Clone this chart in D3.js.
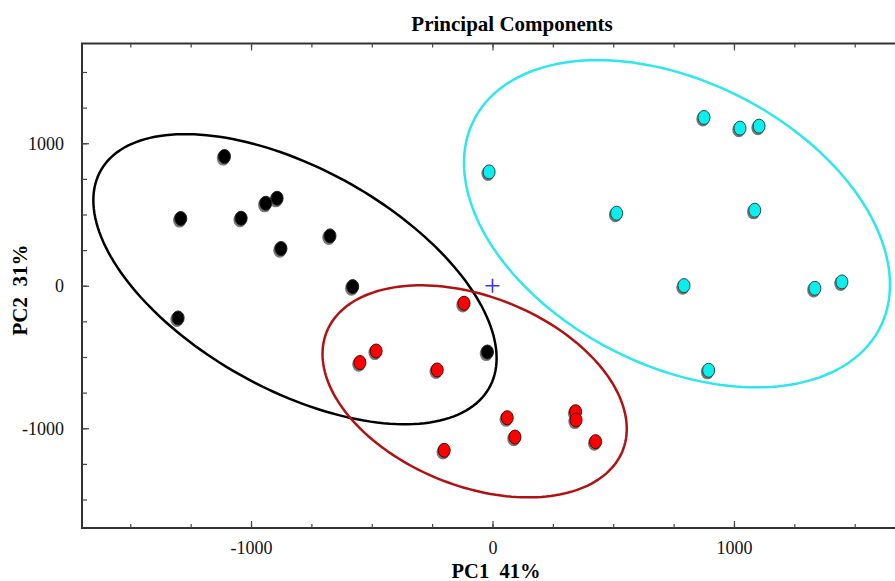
<!DOCTYPE html>
<html>
<head>
<meta charset="utf-8">
<script src="https://cdn.jsdelivr.net/npm/d3@7"></script>
<style>
  body { margin: 0; background: #fff; }
  text { font-family: "Liberation Serif", "Times New Roman", serif; }
</style>
</head>
<body>
<div id="pca"></div>
<script>
// scores, one pair of arrays per group
var blackX = [-1110, -1291, -1041, -939, -892, -876, -673, -579, -1302, -21];
var blackY = [907, 472, 474, 579, 614, 261, 350, -6, -226, -465];
var redX = [-118, -482, -549, -229, 61, 93, 344, 346, 427, -200];
var redY = [-123, -458, -539, -591, -926, -1062, -884, -942, -1094, -1155];
var cyanX = [-14, 876, 1025, 1104, 514, 1086, 793, 1335, 1447, 895];
var cyanY = [799, 1181, 1106, 1120, 509, 530, 1, -18, 27, -593];

// confidence ellipses: centre, half extents and correlation (black, red, cyan)
var ellCx = [-818, -74, 764];
var ellCy = [46, -741, 435];
var ellSx = [835, 630, 882];
var ellSy = [1018, 744, 1148];
var ellR = [-0.544, -0.353, -0.372];

var xTickLabels = [-1000, 0, 1000];
var yTickLabels = [-1000, 0, 1000];

var groups = [
  {x: blackX, y: blackY, fill: "#000000", stroke: "#222222", ring: "#000000"},
  {x: redX, y: redY, fill: "#ff0000", stroke: "#5a0000", ring: "#b01212"},
  {x: cyanX, y: cyanY, fill: "#0aeeee", stroke: "#1d4d4d", ring: "#2ee6ee"}
];

var width = 895, height = 581;

var svg = d3.select("#pca")
  .append("svg")
    .attr("width", width)
    .attr("height", height);

var x = d3.scaleLinear()
  .domain([-1700, 1700])
  .range([82, 903]);

var y = d3.scaleLinear()
  .domain([-1700, 1700])
  .range([528, 43.5]);

var minor = d3.range(-1500, 1501, 250);
var fmt = function (d) { return String(d); };   // plain hyphen, not the unicode minus

// frame
svg.append("rect")
    .attr("x", x(-1700))
    .attr("y", y(1700))
    .attr("width", x(1700) - x(-1700))
    .attr("height", y(-1700) - y(1700))
    .style("fill", "none")
    .style("stroke", "#333")
    .style("stroke-width", 2);

// bottom axis: minor ticks, then major ticks with labels
var gBottom = svg.append("g").attr("transform", "translate(0," + y(-1700) + ")");
gBottom.append("g")
    .call(d3.axisBottom(x).tickValues(minor).tickSize(-4).tickFormat(""))
    .select(".domain").remove();
gBottom.append("g")
    .call(d3.axisBottom(x).tickValues(xTickLabels).tickSize(-7).tickPadding(13).tickFormat(fmt))
    .select(".domain").remove();

// top axis, ticks only
var gTop = svg.append("g").attr("transform", "translate(0," + y(1700) + ")");
gTop.append("g")
    .call(d3.axisTop(x).tickValues(minor).tickSize(-4).tickFormat(""))
    .select(".domain").remove();
gTop.append("g")
    .call(d3.axisTop(x).tickValues(xTickLabels).tickSize(-7).tickFormat(""))
    .select(".domain").remove();

// left axis
var gLeft = svg.append("g").attr("transform", "translate(" + x(-1700) + ",0)");
gLeft.append("g")
    .call(d3.axisLeft(y).tickValues(minor).tickSize(-5).tickFormat(""))
    .select(".domain").remove();
gLeft.append("g")
    .call(d3.axisLeft(y).tickValues(yTickLabels).tickSize(-7).tickPadding(18).tickFormat(fmt))
    .select(".domain").remove();

svg.selectAll(".tick line").attr("stroke", "#444").attr("stroke-width", 1.2);
svg.selectAll(".tick text")
    .attr("fill", "#111")
    .style("font-size", "18px")
    .style("font-family", "'Liberation Serif', 'Times New Roman', serif");

// ellipses, sampled in data space and mapped through the scales
var line = d3.line()
    .x(function (d) { return x(d[0]); })
    .y(function (d) { return y(d[1]); })
    .curve(d3.curveLinearClosed);

groups.forEach(function (g, i) {
  var pts = d3.range(0, 2 * Math.PI, Math.PI / 90).map(function (t) {
    var r = ellR[i];
    return [ellCx[i] + ellSx[i] * Math.cos(t),
            ellCy[i] + ellSy[i] * (r * Math.cos(t) + Math.sqrt(1 - r * r) * Math.sin(t))];
  });
  svg.append("path")
      .attr("d", line(pts))
      .style("fill", "none")
      .style("stroke", g.ring)
      .style("stroke-width", 2.5);
});

// origin marker
svg.append("path")
    .attr("d", "M" + (x(0) - 7) + "," + y(0) + "H" + (x(0) + 7) +
               "M" + x(0) + "," + (y(0) - 7) + "V" + (y(0) + 7))
    .style("stroke", "#3535f0")
    .style("stroke-width", 1.6);

// points with a soft shadow
groups.forEach(function (g) {
  var idx = d3.range(g.x.length);
  var layer = svg.append("g");
  layer.selectAll("shadow")
    .data(idx)
    .enter()
    .append("ellipse")
      .attr("cx", function (d) { return x(g.x[d]) - 1.2; })
      .attr("cy", function (d) { return y(g.y[d]) + 1.6; })
      .attr("rx", 6.5)
      .attr("ry", 7.5)
      .style("fill", "#555")
      .style("opacity", 0.8);
  layer.selectAll("dot")
    .data(idx)
    .enter()
    .append("ellipse")
      .attr("cx", function (d) { return x(g.x[d]); })
      .attr("cy", function (d) { return y(g.y[d]); })
      .attr("rx", 6)
      .attr("ry", 7)
      .style("fill", g.fill)
      .style("stroke", g.stroke)
      .style("stroke-width", 1);
});

// title and axis labels
svg.append("text")
    .attr("x", 512)
    .attr("y", 31)
    .attr("text-anchor", "middle")
    .style("font-size", "21px")
    .style("font-weight", "bold")
    .text("Principal Components");

svg.append("text")
    .attr("x", 496)
    .attr("y", 578)
    .attr("text-anchor", "middle")
    .style("font-size", "20.5px")
    .style("font-weight", "bold")
    .attr("xml:space", "preserve")
    .text("PC1  41%");

svg.append("text")
    .attr("transform", "translate(27,290) rotate(-90)")
    .attr("text-anchor", "middle")
    .style("font-size", "21px")
    .style("font-weight", "bold")
    .attr("xml:space", "preserve")
    .text("PC2  31%");
</script>
</body>
</html>
